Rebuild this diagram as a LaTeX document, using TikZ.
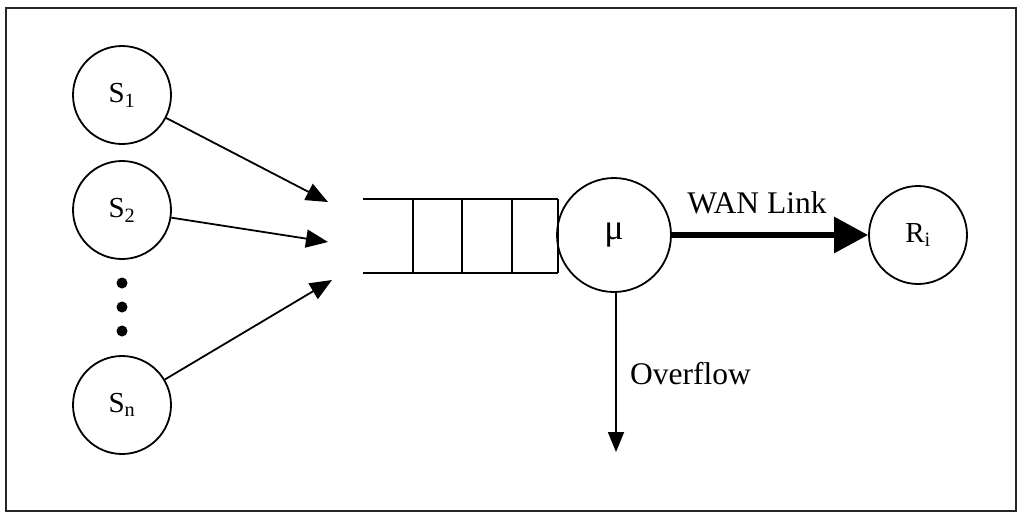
\documentclass[tikz,border=0pt]{standalone}
\usepackage{fontspec}
\setmainfont{Liberation Serif}
\usetikzlibrary{arrows.meta}

\begin{document}
\begin{tikzpicture}[x=1pt,y=-1pt,
  station/.style={circle,draw,line width=1.8pt,minimum size=98pt,inner sep=0pt,font=\fontsize{29}{31}\selectfont},
  server/.style={circle,draw,line width=1.8pt,minimum size=114pt,inner sep=0pt,font=\fontsize{36}{38}\selectfont},
  flow/.style={line width=1.8pt,-{Triangle[length=22pt,width=18pt]}},
  wan/.style={line width=6pt,-{Triangle[length=34pt,width=35pt]}},
  qline/.style={line width=1.8pt},
  lbl/.style={font=\fontsize{31.5}{33}\selectfont,inner sep=0pt}]
  \useasboundingbox (0,0) rectangle (1022,515);
  % outer frame
  \draw[line width=2.2pt,black!85] (6,8) rectangle (1016,511);

  % sources
  \node[station] (s1) at (122,95) {S\textsubscript{1}};
  \node[station] (s2) at (122,210) {S\textsubscript{2}};
  \node[station] (sn) at (122,405) {S\textsubscript{n}};
  \foreach \y/\n in {283/d1,307/d2,331/d3}
    \fill (122,\y) circle (5.5pt) coordinate (\n);

  % arrival arrow tips
  \coordinate (t1) at (328,202);
  \coordinate (t2) at (328,242);
  \coordinate (tn) at (332,280);
  \draw[flow] (s1) -- (t1);
  \draw[flow] (s2) -- (t2);
  \draw[flow] (sn) -- (tn);

  % queue buffer
  \draw[qline] (363,199) -- (558,199);
  \draw[qline] (363,273) -- (558,273);
  \foreach \x in {413,462,512,558}
    \draw[qline] (\x,199) -- (\x,273);

  % server and receiver
  \node[server] (mu) at (614,235) {μ};
  \node[station] (ri) at (918,235) {R\textsubscript{i}};

  % WAN link
  \draw[wan] (mu) -- (ri);
  \node[lbl] (wanlbl) at (757,203) {WAN Link};

  % overflow
  \coordinate (ov) at (616,452);
  \draw[flow,-{Triangle[length=20pt,width=16pt]}] (mu.south -| ov) -- (ov);
  \node[lbl,anchor=west] (ovlbl) at (630,374) {Overflow};
\end{tikzpicture}
\end{document}
